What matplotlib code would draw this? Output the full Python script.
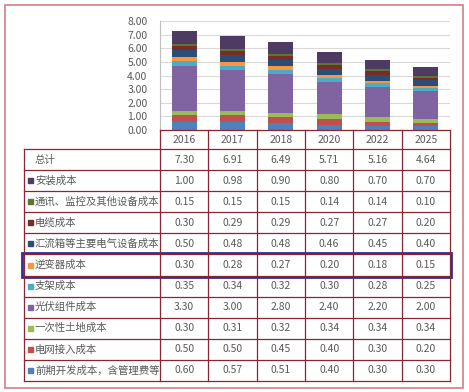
import matplotlib
matplotlib.use("Agg")
import matplotlib.pyplot as plt
from matplotlib.patches import Rectangle
import numpy as np

plt.rcParams['font.family'] = ['Noto Sans CJK SC', 'DejaVu Sans']

years = ["2016", "2017", "2018", "2020", "2022", "2025"]
totals = [7.30, 6.91, 6.49, 5.71, 5.16, 4.64]

# stack order, bottom to top
qianqi = [0.60, 0.57, 0.51, 0.40, 0.30, 0.30]
dianwang = [0.50, 0.50, 0.45, 0.40, 0.30, 0.20]
tudi = [0.30, 0.31, 0.32, 0.34, 0.34, 0.34]
zujian = [3.30, 3.00, 2.80, 2.40, 2.20, 2.00]
zhijia = [0.35, 0.34, 0.32, 0.30, 0.28, 0.25]
nibianqi = [0.30, 0.28, 0.27, 0.20, 0.18, 0.15]
huiliuxiang = [0.50, 0.48, 0.48, 0.46, 0.45, 0.40]
dianlan = [0.30, 0.29, 0.29, 0.27, 0.27, 0.20]
tongxun = [0.15, 0.15, 0.15, 0.14, 0.14, 0.10]
anzhuang = [1.00, 0.98, 0.90, 0.80, 0.70, 0.70]

names = ["前期开发成本，含管理费等", "电网接入成本", "一次性土地成本", "光伏组件成本", "支架成本",
         "逆变器成本", "汇流箱等主要电气设备成本", "电缆成本", "通讯、监控及其他设备成本", "安装成本"]
series = [qianqi, dianwang, tudi, zujian, zhijia, nibianqi, huiliuxiang, dianlan, tongxun, anzhuang]
colors = ["#4F81BD", "#C0504D", "#9BBB59", "#8064A2", "#4BACC6",
          "#F79646", "#2C4D75", "#772C2A", "#5F7530", "#4D3B62"]

W, H = 469, 392
fig = plt.figure(figsize=(W / 100, H / 100), dpi=100)
fig.patch.set_facecolor("white")

txt = "#595959"
line_c = "#8A2535"

# chart area
x0, x1 = 160, 450
ytop, ybot = 21, 130
ax = fig.add_axes([x0 / W, 1 - ybot / H, (x1 - x0) / W, (ybot - ytop) / H])
x = np.arange(len(years))
bottom = np.zeros(len(years))
for vals, c in zip(series, colors):
    ax.bar(x, vals, bottom=bottom, width=0.52, color=c, zorder=3)
    bottom += np.array(vals)
ax.set_xlim(-0.5, len(years) - 0.5)
ax.set_ylim(0, 8)
ax.set_yticks(np.arange(0, 9, 1))
ax.set_yticklabels(["%.2f" % v for v in np.arange(0, 9, 1)], color=txt, fontsize=7.5)
ax.tick_params(axis="y", length=0, pad=9)
ax.set_xticks([])
ax.grid(axis="y", color="#D9D9D9", linewidth=0.8, zorder=0)
for s in ["top", "right", "bottom"]:
    ax.spines[s].set_visible(False)
ax.spines["left"].set_color("#BFBFBF")
ax.spines["left"].set_linewidth(0.8)

# table overlay in pixel units
ov = fig.add_axes([0, 0, 1, 1])
ov.set_xlim(0, W)
ov.set_ylim(H, 0)
ov.axis("off")
ov.patch.set_alpha(0)

# outer frame
ov.add_patch(Rectangle((5, 5), 458, 383, fill=False, edgecolor="#D4898D", linewidth=1.3))

cw = (x1 - x0) / len(years)
tl = 24
rtop = 149
rh = (381 - rtop) / 11

# year header row
ov.plot([x0, x1], [ybot, ybot], color=line_c, lw=0.9)
for i in range(len(years) + 1):
    ov.plot([x0 + i * cw] * 2, [ybot, rtop], color=line_c, lw=0.9)
for i, yr in enumerate(years):
    ov.text(x0 + (i + 0.5) * cw, (ybot + rtop) / 2, yr, ha="center", va="center",
            fontsize=7.5, color=txt)

# body rows
for r in range(12):
    ov.plot([tl, x1], [rtop + r * rh] * 2, color=line_c, lw=0.9)
for xv in [tl] + [x0 + i * cw for i in range(len(years) + 1)]:
    ov.plot([xv, xv], [rtop, rtop + 11 * rh], color=line_c, lw=0.9)

rows = [("总计", None, totals)]
for nm, c, vals in zip(names[::-1], colors[::-1], series[::-1]):
    rows.append((nm, c, vals))

for r, (nm, c, vals) in enumerate(rows):
    yc = rtop + (r + 0.5) * rh
    if c is None:
        ov.text(35, yc, nm, ha="left", va="center", fontsize=7.5, color=txt)
    else:
        ov.add_patch(Rectangle((28, yc - 2.5), 5, 5, color=c))
        ov.text(35, yc, nm, ha="left", va="center", fontsize=7.5, color=txt)
    for i, v in enumerate(vals):
        ov.text(x0 + (i + 0.5) * cw, yc, "%.2f" % v, ha="center", va="center",
                fontsize=7.5, color=txt)

# highlighted inverter row
hr = 1 + names[::-1].index("逆变器成本")
ov.add_patch(Rectangle((22, rtop + hr * rh - 1.5), 429, rh + 3, fill=False,
                       edgecolor="#2E3192", linewidth=2))

fig.savefig("out.png", dpi=100)
